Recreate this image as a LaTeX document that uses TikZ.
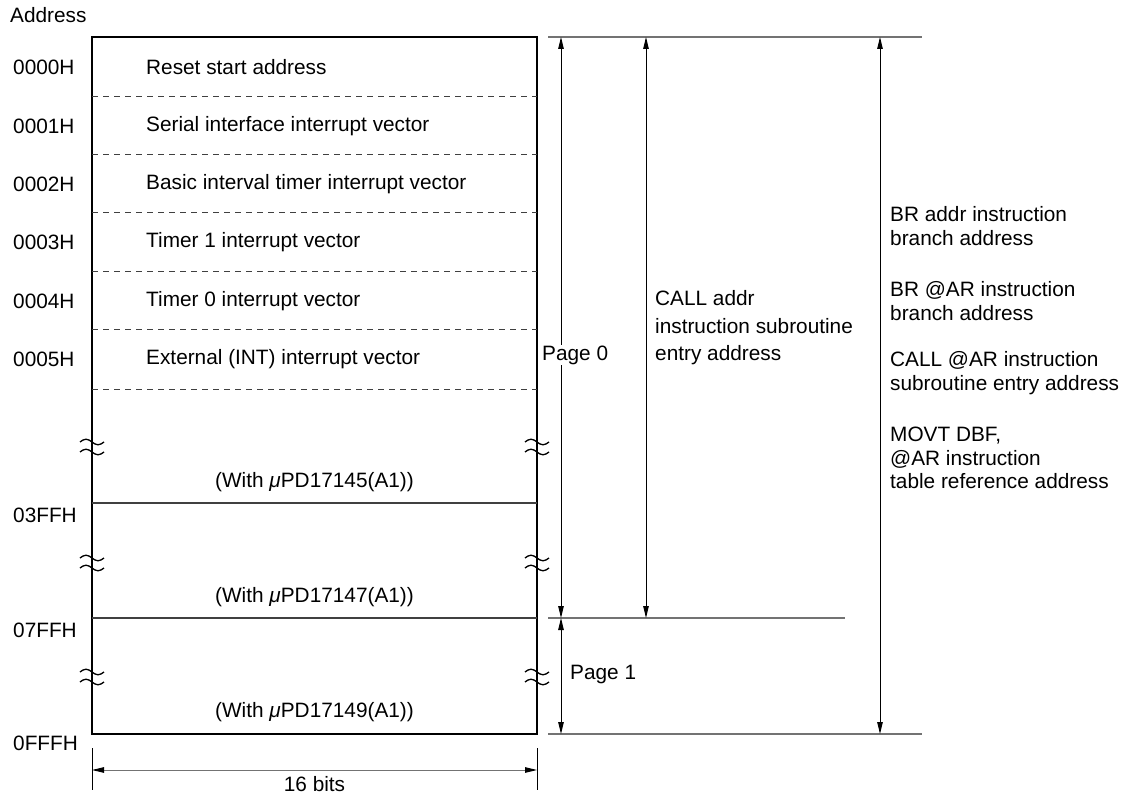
\documentclass[tikz,border=0pt]{standalone}
\usepackage{fontspec}
\setmainfont{Liberation Sans}
\usetikzlibrary{arrows.meta}
\begin{document}
\begin{tikzpicture}[x=1pt,y=-1pt,
  txt/.style={font=\fontsize{20.8}{23.8}\selectfont, inner sep=0pt},
  box/.style={line width=2.4pt, black},
  dashline/.style={line width=1pt, dash pattern=on 6pt off 5pt, black!75},
  solidline/.style={line width=1.4pt, black!75},
  refline/.style={line width=1.5pt, black!55},
  dimarrow/.style={line width=0.9pt, {Triangle[length=12pt,width=5.5pt,color=black]}-{Triangle[length=12pt,width=5.5pt,color=black]}},
  breakmark/.pic={
    \draw[line width=1.3pt] (-12,-5) sin (-6,-7.8) cos (0,-5) sin (6,-2.2) cos (12,-5);
    \draw[line width=1.3pt] (-12,5) sin (-6,2.2) cos (0,5) sin (6,7.8) cos (12,5);
  }
]
\path[use as bounding box] (0,0) rectangle (1133,794);

% header
\node[txt, anchor=west] (addr) at (10,15) {Address};

% memory box
\coordinate (tl) at (92,37);
\coordinate (br) at (537,734);
\draw[box] (tl) rectangle (br);

% dashed separators
\foreach \y in {97,155,213,272,330,389}
  \draw[dashline] (92,\y) -- (537,\y);

% solid separators
\coordinate (l3L) at (92,503);  \coordinate (l3R) at (537,503);
\coordinate (l7L) at (92,618);  \coordinate (l7R) at (537,618);
\draw[solidline] (l3L) -- (l3R);
\draw[solidline] (l7L) -- (l7R);

% row texts
\node[txt, anchor=west] (r0) at (146,67.5) {Reset start address};
\node[txt, anchor=west] (r1) at (146,126) {Serial interface interrupt vector};
\node[txt, anchor=west] (r2) at (146,184) {Basic interval timer interrupt vector};
\node[txt, anchor=west] (r3) at (146,242.5) {Timer 1 interrupt vector};
\node[txt, anchor=west] (r4) at (146,301) {Timer 0 interrupt vector};
\node[txt, anchor=west] (r5) at (146,359.5) {External (INT) interrupt vector};

% addresses
\node[txt, anchor=west] (a0) at (13,67.5) {0000H};
\node[txt, anchor=west] (a1) at (13,126) {0001H};
\node[txt, anchor=west] (a2) at (13,184) {0002H};
\node[txt, anchor=west] (a3) at (13,242.5) {0003H};
\node[txt, anchor=west] (a4) at (13,301) {0004H};
\node[txt, anchor=west] (a5) at (13,359.5) {0005H};
\node[txt, anchor=west] (a6) at (13,515) {03FFH};
\node[txt, anchor=west] (a7) at (13,630) {07FFH};
\node[txt, anchor=west] (a8) at (13,743) {0FFFH};

% device labels
\node[txt] (w5) at (314.5,482) {(With {\itshape μ}PD17145(A1))};
\node[txt] (w7) at (314.5,597) {(With {\itshape μ}PD17147(A1))};
\node[txt] (w9) at (314.5,712) {(With {\itshape μ}PD17149(A1))};

% break marks
\foreach \y in {447,563,677} {
  \pic at (92,\y) {breakmark};
  \pic at (537,\y) {breakmark};
}

% reference lines
\coordinate (tA) at (548,37);  \coordinate (tB) at (922,37);
\coordinate (mA) at (548,618); \coordinate (mB) at (845,618);
\coordinate (bA) at (548,734); \coordinate (bB) at (922,734);
\draw[refline] (tA) -- (tB);
\draw[refline] (mA) -- (mB);
\draw[refline] (bA) -- (bB);

% range arrows
\coordinate (p0t) at (561,37);  \coordinate (p0b) at (561,618);
\coordinate (p1b) at (561,734);
\coordinate (ct) at (646,37);   \coordinate (cb) at (646,618);
\coordinate (bt) at (880,37);   \coordinate (bb) at (880,734);
\draw[dimarrow] (p0t) -- (p0b);
\draw[dimarrow] (p0b) -- (p1b);
\draw[dimarrow] (ct) -- (cb);
\draw[dimarrow] (bt) -- (bb);

\node[txt, anchor=west, fill=white, inner sep=1pt] (pg0) at (541,355) {Page 0};
\node[txt, anchor=west] (pg1) at (570,675) {Page 1};

\node[txt, anchor=west, align=left, font=\fontsize{20.8}{27.5}\selectfont] (calladdr) at (655,328)
  {CALL addr\\instruction subroutine\\entry address};

\node[txt, anchor=west, align=left] (bra) at (890,226) {BR addr instruction\\branch address};
\node[txt, anchor=west, align=left] (brar) at (890,301) {BR @AR instruction\\branch address};
\node[txt, anchor=west, align=left] (callar) at (890,373) {CALL @AR instruction\\subroutine entry address};
\node[txt, anchor=west, align=left] (movt) at (890,458) {MOVT DBF,\\@AR instruction\\table reference address};

% width dimension
\coordinate (dl1) at (92,748); \coordinate (dl2) at (92,790);
\coordinate (dr1) at (537,748); \coordinate (dr2) at (537,790);
\draw[line width=1pt] (dl1) -- (dl2);
\draw[line width=1pt] (dr1) -- (dr2);
\coordinate (wl) at (92,770); \coordinate (wr) at (537,770);
\draw[dimarrow, draw=black!55] (wl) -- (wr);
\node[txt] (bits) at (314.5,784) {16 bits};
\end{tikzpicture}
\end{document}
